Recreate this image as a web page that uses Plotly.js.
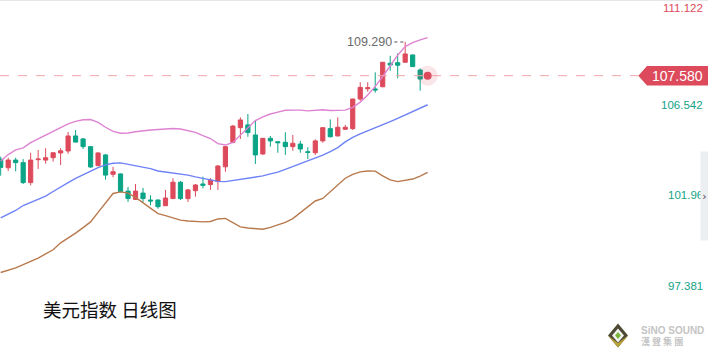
<!DOCTYPE html>
<html>
<head>
<meta charset="utf-8">
<script src="https://cdn.plot.ly/plotly-3.0.1.min.js"></script>
<style>
html,body{margin:0;padding:0;background:#fff;}
#chart{width:708px;height:358px;}
</style>
</head>
<body>
<div id="chart"></div>
<script>
// ---- data ----
const days = [1,2,3,4,5,6,7,8,9,10,11,12,13,14,15,16,17,18,19,20,21,22,23,24,25,26,27,28,29,30,
  31,32,33,34,35,36,37,38,39,40,41,42,43,44,45,46,47,48,49,50,51,52,53,54,55,56,57,58];

const openV = [103.35,102.92,103.31,103.18,102.17,103.33,103.31,103.43,103.67,103.77,
  104.53,104.38,103.99,103.03,103.57,102.59,102.61,101.74,101.32,101.64,
  101.29,101.29,101.00,101.36,102.19,101.36,101.76,102.10,102.07,102.22,
  102.97,104.21,104.95,105.09,104.58,103.62,104.41,104.24,104.21,103.99,
  104.12,103.73,103.68,104.28,104.90,104.53,104.87,104.90,106.40,106.92,
  106.91,107.02,108.21,108.24,108.26,108.63,107.87,107.45];
const highV = [103.48,103.43,103.43,103.36,103.68,103.82,103.91,103.70,103.91,104.73,
  104.83,104.43,104.02,103.70,103.62,102.97,102.63,101.95,102.10,101.90,
  101.53,101.30,101.80,102.39,102.25,101.85,102.10,102.47,102.40,103.06,
  104.00,105.09,105.47,105.64,105.34,104.42,104.53,104.25,104.72,104.58,
  104.28,103.96,104.36,104.96,105.37,105.47,105.09,106.41,107.25,107.25,
  107.75,108.27,108.59,108.71,109.29,108.65,107.95,107.60];
const lowV = [102.52,102.76,102.74,102.10,102.03,102.86,103.13,103.23,103.06,103.63,
  104.21,103.87,102.91,103.00,102.32,102.44,101.69,101.19,101.29,101.19,
  101.02,100.85,100.99,101.34,101.29,101.19,101.46,101.88,101.80,101.80,
  102.72,104.16,104.38,104.49,103.11,103.57,103.99,103.68,103.57,103.78,
  103.68,103.36,103.57,104.19,104.46,104.52,104.83,104.83,106.31,106.77,
  106.72,107.00,107.83,107.45,108.25,108.02,106.82,107.42];
const closeV = [102.94,103.31,103.18,102.17,103.31,103.36,103.43,103.68,103.78,104.53,
  104.22,103.99,102.96,103.67,102.55,102.72,101.71,101.37,101.74,101.36,
  101.24,100.95,101.39,102.19,101.36,101.80,102.05,102.03,102.30,103.01,
  103.99,105.03,105.34,104.70,103.57,104.41,104.28,104.19,103.99,104.16,
  103.87,103.70,104.28,104.95,104.49,104.97,104.97,106.40,106.99,106.97,
  106.86,108.26,108.12,108.11,108.68,108.04,107.41,107.58];

const bollUpper = [103.26,103.59,103.83,103.93,104.19,104.38,104.57,104.76,104.95,105.14,
  105.27,105.35,105.36,105.22,104.97,104.76,104.67,104.68,104.74,104.80,
  104.83,104.86,104.88,104.91,104.88,104.80,104.71,104.55,104.40,104.14,
  104.07,104.20,104.56,104.95,105.31,105.50,105.64,105.74,105.83,105.84,
  105.84,105.80,105.83,105.86,105.82,105.83,105.84,105.98,106.24,106.60,
  107.04,107.54,108.10,108.62,109.05,109.25,109.39,109.51];
const bollMid = [100.38,100.58,100.76,101.01,101.17,101.31,101.49,101.72,101.96,102.17,
  102.38,102.57,102.75,102.93,103.07,103.15,103.17,103.10,103.03,102.96,
  102.88,102.76,102.71,102.67,102.63,102.55,102.46,102.37,102.30,102.23,
  102.22,102.28,102.34,102.39,102.44,102.51,102.61,102.70,102.84,102.98,
  103.12,103.25,103.38,103.56,103.74,103.94,104.23,104.46,104.64,104.79,
  104.92,105.09,105.26,105.42,105.60,105.78,105.95,106.11];
const bollLower = [97.62,97.73,97.85,98.02,98.18,98.35,98.56,98.77,99.12,99.35,
  99.61,99.89,100.18,100.66,101.16,101.62,101.70,101.64,101.42,101.14,
  100.85,100.60,100.50,100.39,100.27,100.23,100.19,100.18,100.20,100.33,
  100.36,100.16,99.93,99.87,99.84,99.81,99.90,100.02,100.16,100.35,
  100.66,100.97,101.24,101.37,101.72,102.07,102.39,102.59,102.71,102.76,
  102.75,102.51,102.31,102.22,102.27,102.35,102.50,102.69];

const axisTickValues = [111.122, 106.542, 101.961, 97.381];
const axisTickLabels = ['111.122', '106.542', '101.96', '97.381'];
const currentPrice = 107.580;
const currentPriceLabel = '107.580';
const highLabel = '109.290';
const highDayIndex = 54; // zero-based position of the period high
const chartTitle = '美元指数 日线图';

// ---- styling ----
const RED = '#dd4a5b';
const GREEN = '#0ba487';
const W = 708, H = 358, PLOT_W = 640;
const yRange = [93.293, 111.411];
const pxPerUnit = H / (yRange[1] - yRange[0]);
const px = v => v / PLOT_W;            // pixel -> paper x
const py = v => 1 - v / H;              // pixel -> paper y
const lastIdx = days.length - 1;

const traces = [
  {type:'scatter', mode:'lines', x:days, y:bollUpper, line:{color:'#de82d2', width:1.4}, hoverinfo:'skip'},
  {type:'scatter', mode:'lines', x:days, y:bollMid, line:{color:'#6d82f6', width:1.4}, hoverinfo:'skip'},
  {type:'scatter', mode:'lines', x:days, y:bollLower, line:{color:'#b8794c', width:1.4}, hoverinfo:'skip'},
  {type:'candlestick', x:days, open:openV, high:highV, low:lowV, close:closeV,
   increasing:{line:{color:RED, width:1}, fillcolor:RED},
   decreasing:{line:{color:GREEN, width:1}, fillcolor:GREEN},
   whiskerwidth:0, hoverinfo:'skip'},
  {type:'scatter', mode:'markers', x:[days[lastIdx]], y:[closeV[lastIdx]],
   marker:{size:20, color:'rgba(221,74,91,0.14)'}, hoverinfo:'skip'},
  {type:'scatter', mode:'markers', x:[days[lastIdx]], y:[closeV[lastIdx]],
   marker:{size:8, color:RED}, hoverinfo:'skip'}
];

const half = 9.75 / pxPerUnit;
const tagPath = 'M ' + px(638.3) + ' ' + currentPrice +
  ' L ' + px(647) + ' ' + (currentPrice + half) +
  ' L ' + px(708) + ' ' + (currentPrice + half) +
  ' L ' + px(708) + ' ' + (currentPrice - half) +
  ' L ' + px(647) + ' ' + (currentPrice - half) + ' Z';

const shapes = [
  {type:'line', xref:'paper', yref:'paper', x0:0, x1:W/PLOT_W, y0:py(0.5), y1:py(0.5),
   line:{color:'#e6e6e6', width:1}},
  {type:'line', xref:'paper', yref:'y', x0:0, x1:px(638), y0:currentPrice, y1:currentPrice,
   line:{color:'#f2a3ab', width:1, dash:'dash'}},
  {type:'path', xref:'paper', yref:'y', path:tagPath, fillcolor:RED, line:{width:0}},
  {type:'line', xref:'x', yref:'y', x0:days[highDayIndex] - 1.45, x1:days[highDayIndex] - 0.05,
   y0:highV[highDayIndex], y1:highV[highDayIndex], line:{color:'#8a8a8a', width:1.5, dash:'dot'}},
  // logo diamond
  {type:'path', xref:'paper', yref:'paper', fillcolor:'#4d4a33', line:{width:0},
   path:'M '+px(618)+' '+py(323.5)+' L '+px(628)+' '+py(335.5)+' L '+px(618)+' '+py(347.5)+' L '+px(608)+' '+py(335.5)+' Z'},
  {type:'path', xref:'paper', yref:'paper', fillcolor:'#b8a23a', line:{width:0},
   path:'M '+px(628)+' '+py(335.5)+' L '+px(618)+' '+py(347.5)+' L '+px(608)+' '+py(335.5)+' L '+px(618)+' '+py(343)+' Z'},
  {type:'path', xref:'paper', yref:'paper', fillcolor:'#f4f4f4', line:{width:0},
   path:'M '+px(618)+' '+py(328.5)+' L '+px(624)+' '+py(335.5)+' L '+px(618)+' '+py(342.5)+' L '+px(612)+' '+py(335.5)+' Z'},
  {type:'path', xref:'paper', yref:'paper', fillcolor:'#7bb83a', line:{width:0},
   path:'M '+px(618)+' '+py(332)+' L '+px(621)+' '+py(335.5)+' L '+px(618)+' '+py(339)+' L '+px(615)+' '+py(335.5)+' Z'}
];

const annotations = [];
axisTickValues.forEach((v, i) => {
  annotations.push({xref:'paper', yref:'y', x:px(705), y:v, xanchor:'right', yanchor:'middle',
    yshift: i === 0 ? -2.5 : -8.7, showarrow:false, text:axisTickLabels[i],
    font:{family:'Liberation Sans, Arial, sans-serif', size:11.5, color: i === 0 ? RED : '#13a386'}});
});
// scrollbar handle on the right edge
annotations.push({xref:'paper', yref:'paper', x:px(704.5), y:py(196), xanchor:'center', yanchor:'middle',
  showarrow:false, text:'›', width:7, height:88, bgcolor:'#eceef2', borderpad:0,
  font:{family:'DejaVu Sans, sans-serif', size:11, color:'#444'}});
annotations.push({xref:'paper', yref:'y', x:px(677.5), y:currentPrice, xanchor:'center', yanchor:'middle',
  showarrow:false, text:currentPriceLabel,
  font:{family:'Liberation Sans, Arial, sans-serif', size:14, color:'#ffffff'}});
annotations.push({xref:'x', yref:'y', x:days[highDayIndex], y:highV[highDayIndex], xanchor:'right', yanchor:'middle',
  xshift:-11, showarrow:false, text:highLabel,
  font:{family:'Liberation Sans, Arial, sans-serif', size:12.5, color:'#6b6b6b'}});
annotations.push({xref:'paper', yref:'paper', x:px(41), y:py(309), xanchor:'left', yanchor:'middle',
  showarrow:false, text:chartTitle,
  font:{family:'Noto Sans CJK SC, sans-serif', size:18.5, color:'#111111'}});
annotations.push({xref:'paper', yref:'paper', x:px(639), y:py(330.5), xanchor:'left', yanchor:'middle',
  showarrow:false, text:'<b>SiNO SOUND</b>',
  font:{family:'Liberation Sans, Arial, sans-serif', size:10, color:'#c4c4c4'}});
annotations.push({xref:'paper', yref:'paper', x:px(639), y:py(341.5), xanchor:'left', yanchor:'middle',
  showarrow:false, text:'<b>漢 聲 集 團</b>',
  font:{family:'Noto Sans CJK TC, sans-serif', size:9, color:'#c4c4c4'}});

const layout = {
  width:W, height:H,
  margin:{l:0, r:W - PLOT_W, t:0, b:0, pad:0},
  paper_bgcolor:'#ffffff', plot_bgcolor:'#ffffff',
  showlegend:false,
  boxgap:0.2,
  xaxis:{range:[0.907, 86.35], visible:false, showgrid:false, zeroline:false,
         rangeslider:{visible:false}, fixedrange:true},
  yaxis:{range:yRange, visible:false, showgrid:false, zeroline:false, fixedrange:true},
  shapes:shapes,
  annotations:annotations
};

Plotly.newPlot('chart', traces, layout, {staticPlot:true, displayModeBar:false});
</script>
</body>
</html>
